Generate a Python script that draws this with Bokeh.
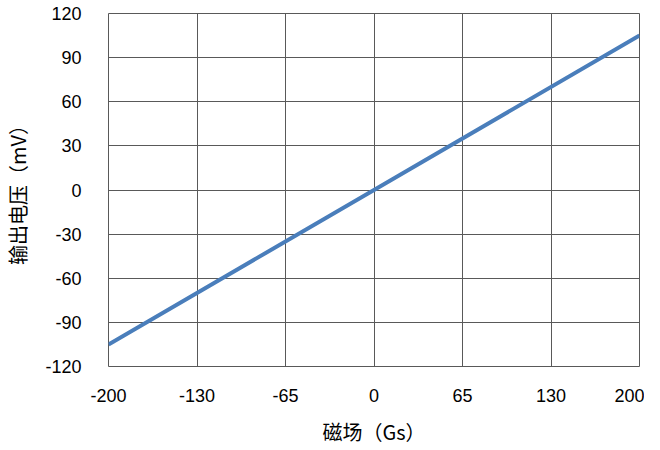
from bokeh.plotting import figure
from bokeh.models import FixedTicker, Range1d
from bokeh.embed import file_html
from bokeh.resources import INLINE

# Data
field_gs = [-200, 0, 200]
voltage_mv = [-105, 0, 105]

x_tick_values = [-200, -400 / 3, -200 / 3, 0, 200 / 3, 400 / 3, 200]
x_tick_labels = ["-200", "-130", "-65", "0", "65", "130", "200"]
y_tick_values = [-120, -90, -60, -30, 0, 30, 60, 90, 120]
y_tick_labels = ["-120", "-90", "-60", "-30", "0", "30", "60", "90", "120"]

x_title = "磁场（Gs）"
y_title = "输出电压（mV）"

grid_color = "#595959"
line_color = "#4a7ebb"
tick_font = "Liberation Sans"
title_font = "Noto Sans CJK SC"

p = figure(
    width=644, height=448,
    min_border_left=100, min_border_top=13, min_border_right=5, min_border_bottom=60,
    output_backend="svg", toolbar_location=None,
    x_range=Range1d(-200, 200), y_range=Range1d(-120, 120),
)

p.line(field_gs, voltage_mv, line_color=line_color, line_width=4)

p.xaxis.ticker = FixedTicker(ticks=x_tick_values)
p.xaxis.major_label_overrides = {v: l for v, l in zip(x_tick_values, x_tick_labels)}
p.yaxis.ticker = FixedTicker(ticks=y_tick_values)
p.yaxis.major_label_overrides = {v: l for v, l in zip(y_tick_values, y_tick_labels)}

for ax in (p.xaxis[0], p.yaxis[0]):
    ax.axis_line_color = None
    ax.major_tick_line_color = None
    ax.minor_tick_line_color = None
    ax.major_tick_out = 0
    ax.major_tick_in = 0
    ax.major_label_text_font = tick_font
    ax.major_label_text_font_size = "18px"
    ax.major_label_text_color = "#000000"
    ax.axis_label_text_font = title_font
    ax.axis_label_text_font_size = "20px"
    ax.axis_label_text_font_style = "normal"
    ax.axis_label_text_color = "#000000"

p.xaxis.axis_label = x_title
p.yaxis.axis_label = y_title
p.xaxis.major_label_standoff = 22
p.xaxis.axis_label_standoff = 12
p.yaxis.major_label_standoff = 27
p.yaxis.axis_label_standoff = 10

p.xgrid.ticker = FixedTicker(ticks=x_tick_values)
p.ygrid.ticker = FixedTicker(ticks=y_tick_values)
for g in (p.xgrid[0], p.ygrid[0]):
    g.grid_line_color = grid_color
    g.grid_line_width = 1

p.outline_line_color = grid_color
p.outline_line_width = 1
p.background_fill_color = "white"
p.border_fill_color = "white"

open("out.html", "w").write(file_html(p, INLINE))
